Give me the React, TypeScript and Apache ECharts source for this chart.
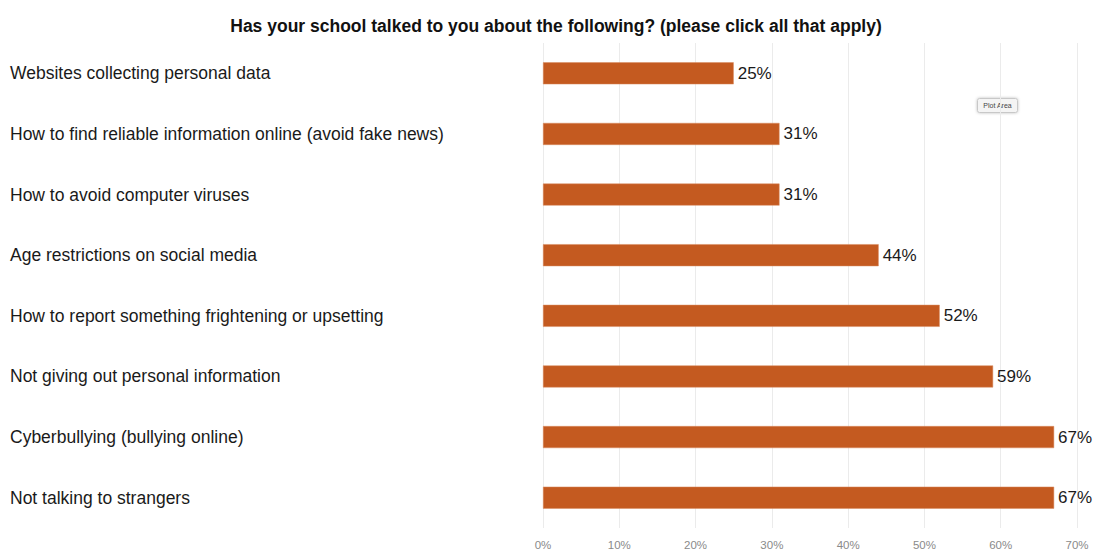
import React, { useEffect, useRef } from "react";
import * as echarts from "echarts";

const categories = [
  "Websites collecting personal data",
  "How to find reliable information online (avoid fake news)",
  "How to avoid computer viruses",
  "Age restrictions on social media",
  "How to report something frightening or upsetting",
  "Not giving out personal information",
  "Cyberbullying (bullying online)",
  "Not talking to strangers",
];
const values = [25, 31, 31, 44, 52, 59, 67, 67];
const titleText = "Has your school talked to you about the following? (please click all that apply)";

export default function App() {
  const ref = useRef<HTMLDivElement>(null);
  useEffect(() => {
    if (!ref.current) return;
    const chart = echarts.init(ref.current, null, { renderer: "svg" });
    chart.setOption({
      animation: false,
      backgroundColor: "#ffffff",
      title: {
        text: titleText,
        left: 551,
        top: 12,
        textAlign: "center",
        textStyle: { fontFamily: "Liberation Sans, Arial", fontSize: 17.5, fontWeight: "bold", color: "#111" },
      },
      grid: { left: 543, right: 18, top: 43, bottom: 23, containLabel: false },
      xAxis: {
        type: "value",
        min: 0,
        max: 70,
        interval: 10,
        axisLine: { show: false },
        axisTick: { show: false },
        splitLine: { show: true, lineStyle: { color: "#ebebeb", width: 1 } },
        axisLabel: {
          formatter: "{value}%",
          color: "#8a8a8a",
          fontSize: 11.5,
          fontFamily: "Liberation Sans, Arial",
          margin: 11,
        },
      },
      yAxis: {
        type: "category",
        data: categories,
        inverse: true,
        axisLine: { show: false },
        axisTick: { show: false },
        axisLabel: {
          align: "left",
          margin: 533,
          color: "#1a1a1a",
          fontSize: 17.5,
          fontFamily: "Liberation Sans, Arial",
        },
      },
      series: [
        {
          type: "bar",
          data: values,
          barWidth: 22,
          itemStyle: { color: "#C45A20", borderColor: "#d98a5e", borderWidth: 0.5 },
          label: {
            show: true,
            position: "right",
            distance: 4,
            formatter: "{c}%",
            color: "#1a1a1a",
            fontSize: 17,
            fontFamily: "Liberation Sans, Arial",
          },
        },
      ],
      graphic: [
        {
          type: "group",
          left: 977,
          top: 98,
          children: [
            {
              type: "rect",
              shape: { x: 0, y: 0, width: 40, height: 14, r: 2 },
              style: { fill: "#f4f4f4", stroke: "#c8c8c8", lineWidth: 1, shadowBlur: 3, shadowColor: "rgba(0,0,0,0.25)" },
            },
            {
              type: "text",
              x: 20,
              y: 7,
              style: { text: "Plot Area", fontSize: 7, fill: "#444", align: "center", verticalAlign: "middle", fontFamily: "Liberation Sans, Arial" },
            },
          ],
        },
      ],
    });
    return () => chart.dispose();
  }, []);
  return <div ref={ref} style={{ position: "absolute", left: 0, top: 0, width: 1095, height: 551 }} />;
}
